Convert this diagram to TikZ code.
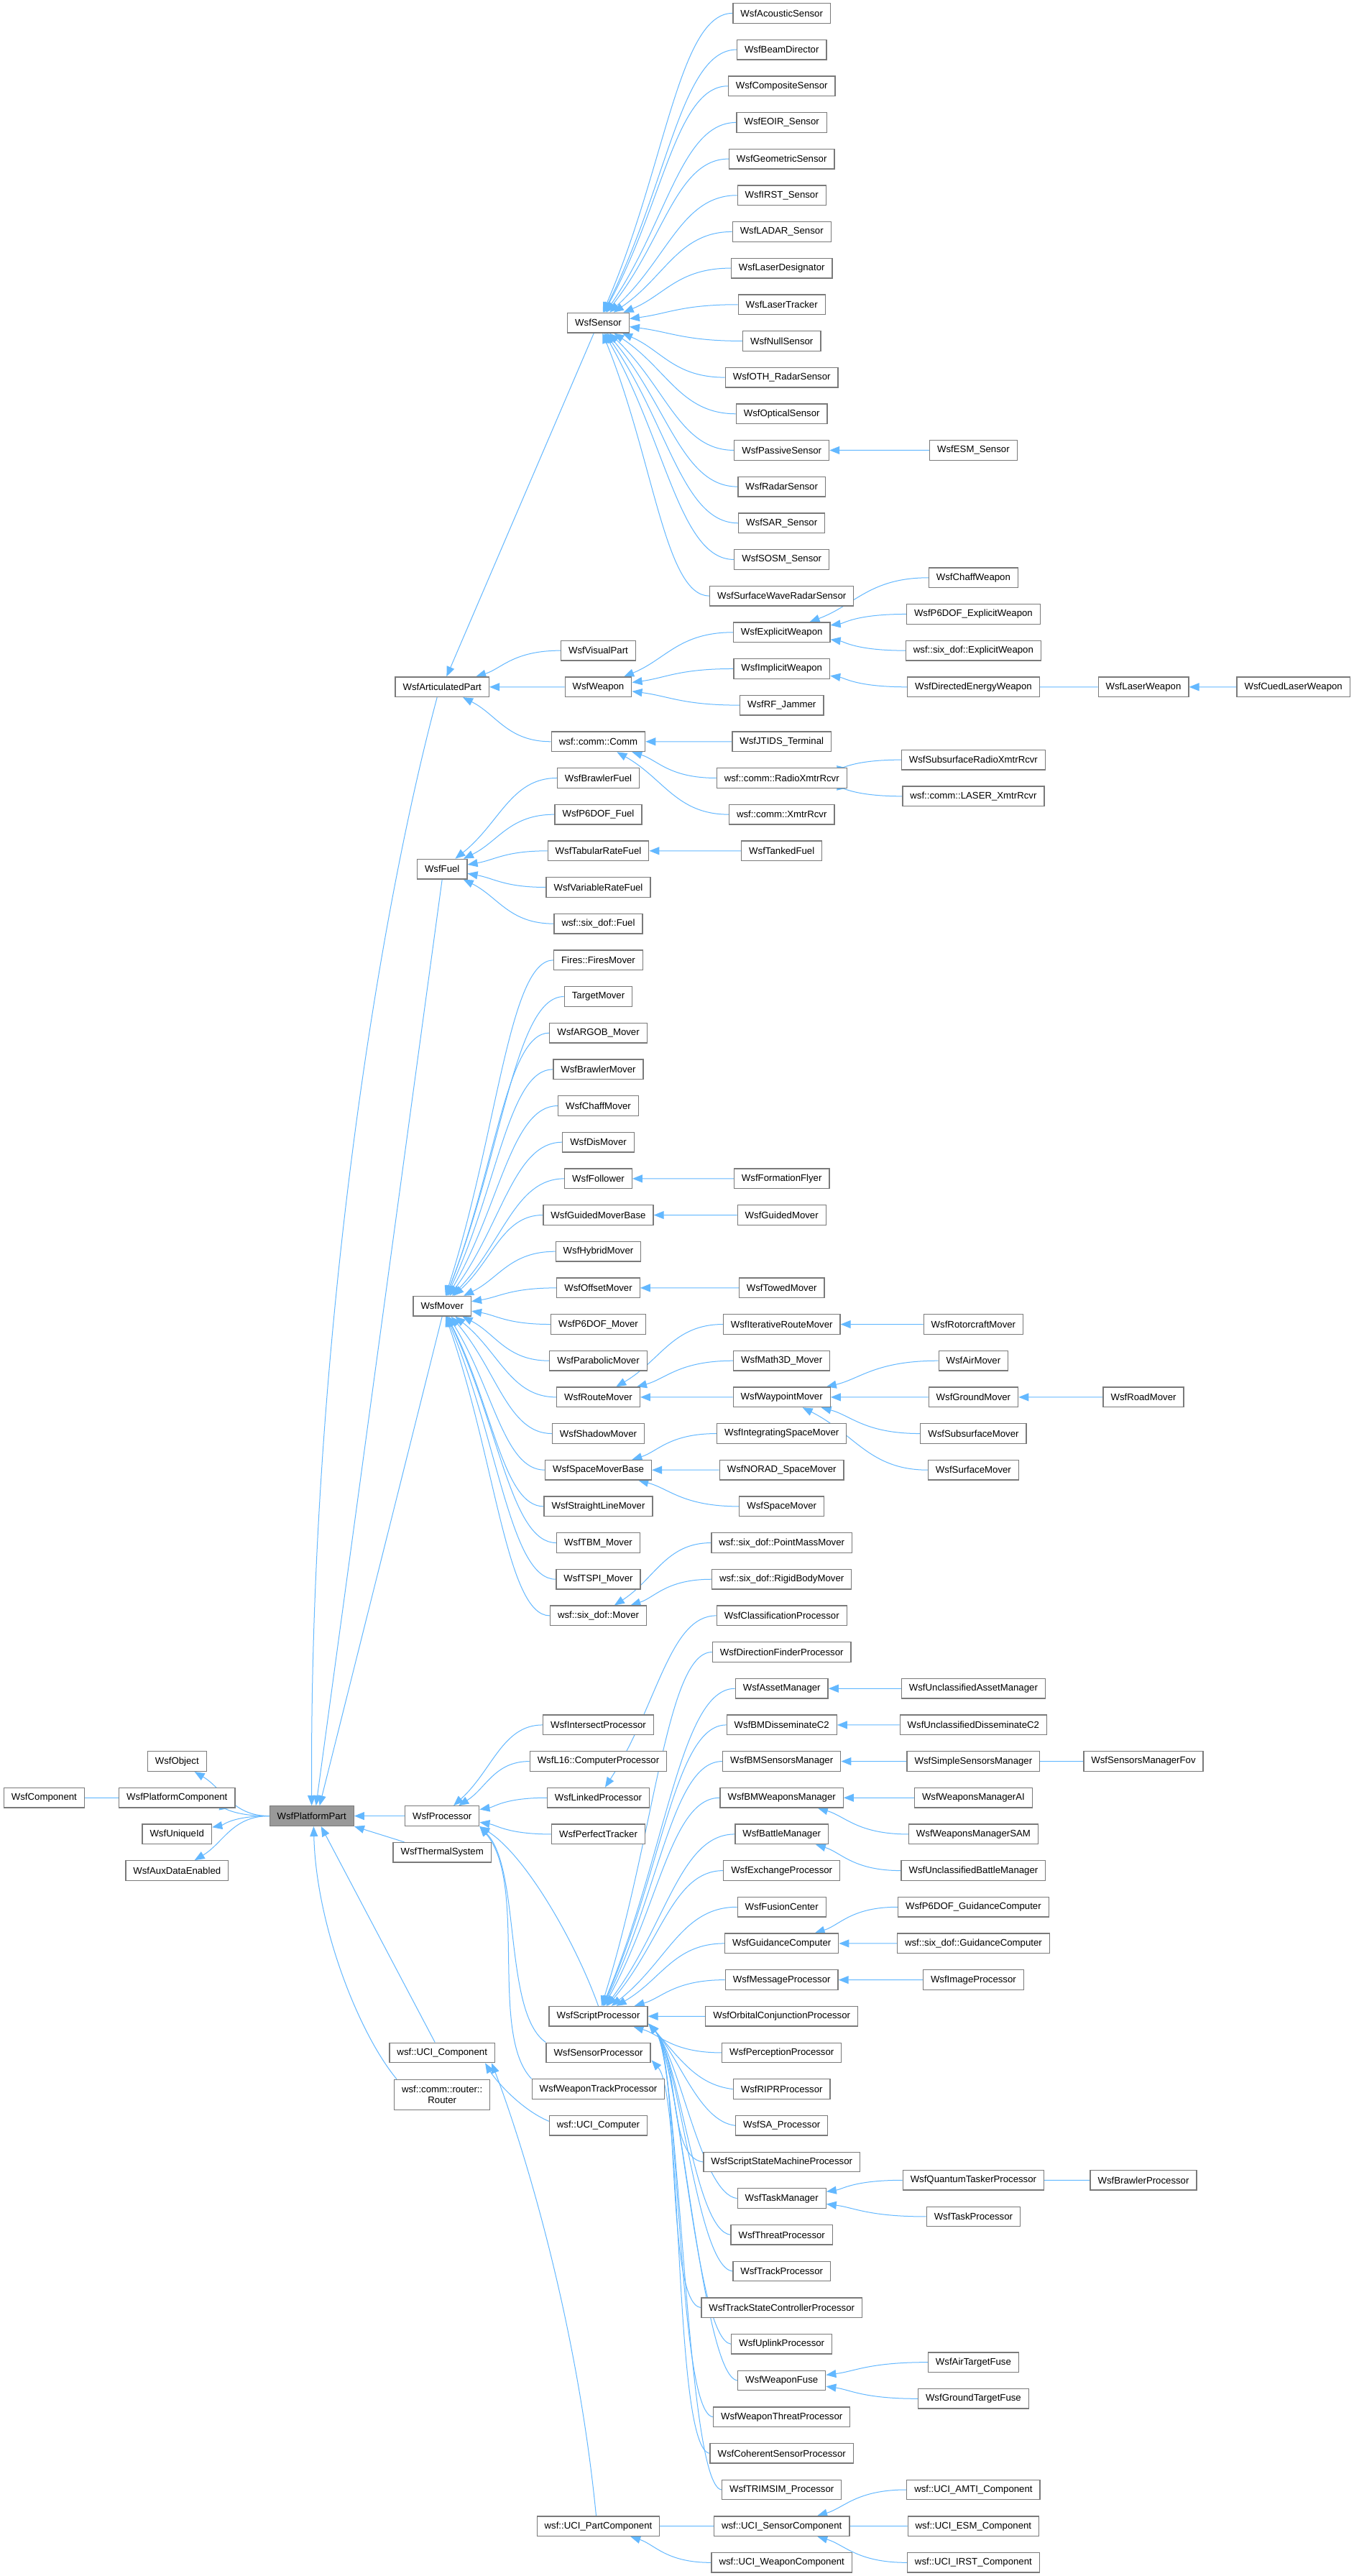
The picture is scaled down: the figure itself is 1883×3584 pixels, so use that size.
\documentclass[tikz,border=0pt]{standalone}
\usepackage{fontspec}
\setmainfont{Liberation Sans}
\usetikzlibrary{calc,arrows.meta}
\definecolor{edgeblue}{HTML}{63B8FF}
\definecolor{boxgray}{HTML}{7A7A7A}
\definecolor{ppfill}{HTML}{999999}
\pgfdeclarelayer{bg}
\pgfsetlayers{bg,main}
\newcommand{\rowy}[1]{18.4+25.335*(#1)}
\newcommand{\mkn}[4]{\node[cls] (#1) at (#2,{\rowy{#3}}) {#4};}
\newcommand{\inhe}[2]{\draw[inhedge] (#1.west) .. controls ($(#1.west)!0.4!(#2.center |- #1.west)$) and ($(#2.center)!0.5!(#1.west)$) .. (#2);}
\newcommand{\inhs}[2]{\draw[inhedge] (#1.west) .. controls ($(#1.west)+(-50,-6)$) and ($(#2.south east)+(45,45)$) .. ($(#2.south east)+(1,-4)$);}
\def\xA{61.4}
\def\xB{246.3}
\def\xC{433.7}
\def\xD{615.2}
\def\xE{832.5}
\def\xF{1087.7}
\def\xG{1354.4}
\def\xH{1591}
\def\xI{1799.7}
\begin{document}
\begin{tikzpicture}[x=1pt,y=-1pt,
  cls/.style={draw=boxgray, line width=1.3pt, fill=white, inner xsep=10.5pt, inner ysep=0pt,
    minimum height=27.6pt, font=\fontsize{13.2}{15.3}\selectfont, text=black},
  inhedge/.style={draw=edgeblue, line width=1pt, -{Triangle[length=14pt,width=11pt]}}]
\useasboundingbox (0,0) rectangle (1883,3584);

% ---- sensors
\mkn{s1}{\xF}{0}{WsfAcousticSensor}
\mkn{s2}{\xF}{2}{WsfBeamDirector}
\mkn{s3}{\xF}{4}{WsfCompositeSensor}
\mkn{s4}{\xF}{6}{WsfEOIR\_Sensor}
\mkn{s5}{\xF}{8}{WsfGeometricSensor}
\mkn{s6}{\xF}{10}{WsfIRST\_Sensor}
\mkn{s7}{\xF}{12}{WsfLADAR\_Sensor}
\mkn{s8}{\xF}{14}{WsfLaserDesignator}
\mkn{s9}{\xF}{16}{WsfLaserTracker}
\mkn{s10}{\xF}{18}{WsfNullSensor}
\mkn{s11}{\xF}{20}{WsfOTH\_RadarSensor}
\mkn{s12}{\xF}{22}{WsfOpticalSensor}
\mkn{s13}{\xF}{24}{WsfPassiveSensor}
\mkn{s14}{\xF}{26}{WsfRadarSensor}
\mkn{s15}{\xF}{28}{WsfSAR\_Sensor}
\mkn{s16}{\xF}{30}{WsfSOSM\_Sensor}
\mkn{s17}{\xF}{32}{WsfSurfaceWaveRadarSensor}
\mkn{esm}{\xG}{24}{WsfESM\_Sensor}
\mkn{sensor}{\xE}{17}{WsfSensor}
% ---- weapons / comm
\mkn{chaffw}{\xG}{31}{WsfChaffWeapon}
\mkn{p6exw}{\xG}{33}{WsfP6DOF\_ExplicitWeapon}
\mkn{exw}{\xF}{34}{WsfExplicitWeapon}
\mkn{visual}{\xE}{35}{WsfVisualPart}
\mkn{sdexw}{\xG}{35}{wsf::six\_dof::ExplicitWeapon}
\mkn{imw}{\xF}{36}{WsfImplicitWeapon}
\mkn{ap}{\xD}{37}{WsfArticulatedPart}
\mkn{weapon}{\xE}{37}{WsfWeapon}
\mkn{dew}{\xG}{37}{WsfDirectedEnergyWeapon}
\mkn{lw}{\xH}{37}{WsfLaserWeapon}
\mkn{clw}{\xI}{37}{WsfCuedLaserWeapon}
\mkn{rfj}{\xF}{38}{WsfRF\_Jammer}
\mkn{comm}{\xE}{40}{wsf::comm::Comm}
\mkn{jtids}{\xF}{40}{WsfJTIDS\_Terminal}
\mkn{subradio}{\xG}{41}{WsfSubsurfaceRadioXmtrRcvr}
\mkn{radio}{\xF}{42}{wsf::comm::RadioXmtrRcvr}
\mkn{laserx}{\xG}{43}{wsf::comm::LASER\_XmtrRcvr}
\mkn{xmtr}{\xF}{44}{wsf::comm::XmtrRcvr}
% ---- fuel
\mkn{bfuel}{\xE}{42}{WsfBrawlerFuel}
\mkn{p6fuel}{\xE}{44}{WsfP6DOF\_Fuel}
\mkn{tabfuel}{\xE}{46}{WsfTabularRateFuel}
\mkn{tankfuel}{\xF}{46}{WsfTankedFuel}
\mkn{fuel}{\xD}{47}{WsfFuel}
\mkn{varfuel}{\xE}{48}{WsfVariableRateFuel}
\mkn{sdfuel}{\xE}{50}{wsf::six\_dof::Fuel}
% ---- movers
\mkn{fires}{\xE}{52}{Fires::FiresMover}
\mkn{target}{\xE}{54}{TargetMover}
\mkn{argob}{\xE}{56}{WsfARGOB\_Mover}
\mkn{bmover}{\xE}{58}{WsfBrawlerMover}
\mkn{chaffm}{\xE}{60}{WsfChaffMover}
\mkn{dis}{\xE}{62}{WsfDisMover}
\mkn{follower}{\xE}{64}{WsfFollower}
\mkn{formation}{\xF}{64}{WsfFormationFlyer}
\mkn{gmb}{\xE}{66}{WsfGuidedMoverBase}
\mkn{guided}{\xF}{66}{WsfGuidedMover}
\mkn{hybrid}{\xE}{68}{WsfHybridMover}
\mkn{offset}{\xE}{70}{WsfOffsetMover}
\mkn{towed}{\xF}{70}{WsfTowedMover}
\mkn{mover}{\xD}{71}{WsfMover}
\mkn{p6mover}{\xE}{72}{WsfP6DOF\_Mover}
\mkn{iterroute}{\xF}{72}{WsfIterativeRouteMover}
\mkn{rotor}{\xG}{72}{WsfRotorcraftMover}
\mkn{parab}{\xE}{74}{WsfParabolicMover}
\mkn{math3d}{\xF}{74}{WsfMath3D\_Mover}
\mkn{air}{\xG}{74}{WsfAirMover}
\mkn{route}{\xE}{76}{WsfRouteMover}
\mkn{waypoint}{\xF}{76}{WsfWaypointMover}
\mkn{ground}{\xG}{76}{WsfGroundMover}
\mkn{road}{\xH}{76}{WsfRoadMover}
\mkn{shadow}{\xE}{78}{WsfShadowMover}
\mkn{intspace}{\xF}{78}{WsfIntegratingSpaceMover}
\mkn{subsurf}{\xG}{78}{WsfSubsurfaceMover}
\mkn{smb}{\xE}{80}{WsfSpaceMoverBase}
\mkn{norad}{\xF}{80}{WsfNORAD\_SpaceMover}
\mkn{surface}{\xG}{80}{WsfSurfaceMover}
\mkn{straight}{\xE}{82}{WsfStraightLineMover}
\mkn{space}{\xF}{82}{WsfSpaceMover}
\mkn{tbm}{\xE}{84}{WsfTBM\_Mover}
\mkn{pointmass}{\xF}{84}{wsf::six\_dof::PointMassMover}
\mkn{tspi}{\xE}{86}{WsfTSPI\_Mover}
\mkn{rigid}{\xF}{86}{wsf::six\_dof::RigidBodyMover}
\mkn{sdmover}{\xE}{88}{wsf::six\_dof::Mover}
% ---- processors
\mkn{classif}{\xF}{88}{WsfClassificationProcessor}
\mkn{dirfind}{\xF}{90}{WsfDirectionFinderProcessor}
\mkn{asset}{\xF}{92}{WsfAssetManager}
\mkn{uasset}{\xG}{92}{WsfUnclassifiedAssetManager}
\mkn{intersect}{\xE}{94}{WsfIntersectProcessor}
\mkn{bmdis}{\xF}{94}{WsfBMDisseminateC2}
\mkn{udis}{\xG}{94}{WsfUnclassifiedDisseminateC2}
\mkn{object}{\xB}{96}{WsfObject}
\mkn{l16}{\xE}{96}{WsfL16::ComputerProcessor}
\mkn{bmsens}{\xF}{96}{WsfBMSensorsManager}
\mkn{simsens}{\xG}{96}{WsfSimpleSensorsManager}
\mkn{fov}{\xH}{96}{WsfSensorsManagerFov}
\mkn{component}{\xA}{98}{WsfComponent}
\mkn{platcomp}{\xB}{98}{WsfPlatformComponent}
\mkn{linked}{\xE}{98}{WsfLinkedProcessor}
\mkn{bmweap}{\xF}{98}{WsfBMWeaponsManager}
\mkn{wmai}{\xG}{98}{WsfWeaponsManagerAI}
\node[cls, fill=ppfill] (pp) at (\xC,{\rowy{99}}) {WsfPlatformPart};
\mkn{processor}{\xD}{99}{WsfProcessor}
\mkn{unique}{\xB}{100}{WsfUniqueId}
\mkn{perfect}{\xE}{100}{WsfPerfectTracker}
\mkn{battle}{\xF}{100}{WsfBattleManager}
\mkn{wmsam}{\xG}{100}{WsfWeaponsManagerSAM}
\mkn{thermal}{\xD}{101}{WsfThermalSystem}
\mkn{aux}{\xB}{102}{WsfAuxDataEnabled}
\mkn{exchange}{\xF}{102}{WsfExchangeProcessor}
\mkn{ubattle}{\xG}{102}{WsfUnclassifiedBattleManager}
\mkn{fusion}{\xF}{104}{WsfFusionCenter}
\mkn{p6guid}{\xG}{104}{WsfP6DOF\_GuidanceComputer}
\mkn{guid}{\xF}{106}{WsfGuidanceComputer}
\mkn{sdguid}{\xG}{106}{wsf::six\_dof::GuidanceComputer}
\mkn{message}{\xF}{108}{WsfMessageProcessor}
\mkn{image}{\xG}{108}{WsfImageProcessor}
\mkn{script}{\xE}{110}{WsfScriptProcessor}
\mkn{orbital}{\xF}{110}{WsfOrbitalConjunctionProcessor}
\mkn{ucicomp}{\xD}{112}{wsf::UCI\_Component}
\mkn{sensproc}{\xE}{112}{WsfSensorProcessor}
\mkn{percep}{\xF}{112}{WsfPerceptionProcessor}
\node[cls, align=center, minimum height=42.5pt] (router) at (\xD,2914.5) {wsf::comm::router::\\Router};
\mkn{wtrack}{\xE}{114}{WsfWeaponTrackProcessor}
\mkn{ripr}{\xF}{114}{WsfRIPRProcessor}
\mkn{ucicomputer}{\xE}{116}{wsf::UCI\_Computer}
\mkn{sa}{\xF}{116}{WsfSA\_Processor}
\mkn{ssm}{\xF}{118}{WsfScriptStateMachineProcessor}
\mkn{quantum}{\xG}{119}{WsfQuantumTaskerProcessor}
\mkn{bproc}{\xH}{119}{WsfBrawlerProcessor}
\mkn{taskmgr}{\xF}{120}{WsfTaskManager}
\mkn{taskproc}{\xG}{121}{WsfTaskProcessor}
\mkn{threat}{\xF}{122}{WsfThreatProcessor}
\mkn{track}{\xF}{124}{WsfTrackProcessor}
\mkn{tsc}{\xF}{126}{WsfTrackStateControllerProcessor}
\mkn{uplink}{\xF}{128}{WsfUplinkProcessor}
\mkn{airfuse}{\xG}{129}{WsfAirTargetFuse}
\mkn{wfuse}{\xF}{130}{WsfWeaponFuse}
\mkn{gfuse}{\xG}{131}{WsfGroundTargetFuse}
\mkn{wthreat}{\xF}{132}{WsfWeaponThreatProcessor}
\mkn{coherent}{\xF}{134}{WsfCoherentSensorProcessor}
\mkn{trimsim}{\xF}{136}{WsfTRIMSIM\_Processor}
\mkn{amti}{\xG}{136}{wsf::UCI\_AMTI\_Component}
\mkn{partcomp}{\xE}{138}{wsf::UCI\_PartComponent}
\mkn{sensorcomp}{\xF}{138}{wsf::UCI\_SensorComponent}
\mkn{esmcomp}{\xG}{138}{wsf::UCI\_ESM\_Component}
\mkn{weapcomp}{\xF}{140}{wsf::UCI\_WeaponComponent}
\mkn{irstcomp}{\xG}{140}{wsf::UCI\_IRST\_Component}

\begin{pgfonlayer}{bg}
\fill[white] (0,0) rectangle (1883,3584);
% sensors
\foreach \c in {s1,s2,s3,s4,s5,s6,s7,s8,s9,s10,s11,s12,s13,s14,s15,s16,s17}{\inhe{\c}{sensor}}
\inhe{esm}{s13}
\draw[inhedge] (sensor) -- (ap);
\inhe{visual}{ap}
\inhe{weapon}{ap}
\inhe{comm}{ap}
\foreach \c in {chaffw,p6exw,sdexw}{\inhe{\c}{exw}}
\foreach \c in {exw,imw,rfj}{\inhe{\c}{weapon}}
\inhe{dew}{imw}
\inhe{lw}{dew}
\inhe{clw}{lw}
\foreach \c in {jtids,radio,xmtr}{\inhe{\c}{comm}}
\inhe{subradio}{radio}
\inhe{laserx}{radio}
% fuel
\foreach \c in {bfuel,p6fuel,tabfuel,varfuel,sdfuel}{\inhe{\c}{fuel}}
\inhe{tankfuel}{tabfuel}
% movers
\foreach \c in {fires,target,argob,bmover,chaffm,dis,follower,gmb,hybrid,offset,p6mover,parab,route,shadow,smb,straight,tbm,tspi,sdmover}{\inhe{\c}{mover}}
\inhe{formation}{follower}
\inhe{guided}{gmb}
\inhe{towed}{offset}
\foreach \c in {iterroute,math3d,waypoint}{\inhe{\c}{route}}
\inhe{rotor}{iterroute}
\foreach \c in {air,ground,subsurf,surface}{\inhe{\c}{waypoint}}
\inhe{road}{ground}
\foreach \c in {intspace,norad,space}{\inhe{\c}{smb}}
\inhe{pointmass}{sdmover}
\inhe{rigid}{sdmover}
% into the platform part
\draw[inhedge] ($(ap.south)+(-7,0)$) .. controls (520,1300) and (430,1900) .. (pp.north);
\draw[inhedge] (fuel.south) -- ($(pp.north)+(6,0)$);
\draw[inhedge] (mover.south) -- ($(pp.north)+(11,0)$);
\draw[inhedge] (processor) -- (pp);
\draw[inhedge] ($(thermal.north west)+(16,0)$) -- (pp.south east);
\draw[inhedge] ($(ucicomp.north)+(-10,0)$) -- ($(pp.south)+(13,0)$);
\draw[inhedge] ($(router.north west)+(4,0)$) .. controls (500,2830) and (440,2680) .. ($(pp.south)+(2.7,0)$);
% platform part bases
\foreach \c in {object,platcomp,unique,aux}{\inhe{pp}{\c}}
\inhe{platcomp}{component}
% processors
\foreach \c in {intersect,l16,linked,perfect}{\inhe{\c}{processor}}
\draw[inhedge] (script.north) .. controls (800,2700) and (730,2580) .. (processor.south east);
\draw[inhedge] (sensproc.north west) .. controls (700,2800) and (725,2600) .. (processor.south east);
\draw[inhedge] (wtrack.north west) .. controls (680,2830) and (735,2620) .. (processor.south east);
\inhe{classif}{linked}
\foreach \c in {dirfind,asset,bmdis,bmsens,bmweap,battle,exchange,fusion,guid,message,orbital,percep}{\inhe{\c}{script}}
\foreach \c in {ripr,sa,ssm,taskmgr,threat,track,tsc,uplink,wfuse,wthreat,trimsim}{\inhs{\c}{script}}
\inhs{coherent}{sensproc}
\inhe{uasset}{asset}
\inhe{udis}{bmdis}
\inhe{simsens}{bmsens}
\inhe{fov}{simsens}
\inhe{wmai}{bmweap}
\inhe{wmsam}{bmweap}
\inhe{ubattle}{battle}
\inhe{p6guid}{guid}
\inhe{sdguid}{guid}
\inhe{image}{message}
\inhe{quantum}{taskmgr}
\inhe{taskproc}{taskmgr}
\inhe{bproc}{quantum}
\inhe{airfuse}{wfuse}
\inhe{gfuse}{wfuse}
% UCI
\draw[inhedge] ($(ucicomputer.west)+(0,-6)$) .. controls (725,2935) and (690,2895) .. ($(ucicomp.south east)+(-14,0)$);
\draw[inhedge] ($(partcomp.north)+(-3,0)$) .. controls (800,3200) and (715,2950) .. ($(ucicomp.south east)+(-5,0)$);
\inhe{sensorcomp}{partcomp}
\inhe{weapcomp}{partcomp}
\foreach \c in {amti,esmcomp,irstcomp}{\inhe{\c}{sensorcomp}}
\end{pgfonlayer}
\end{tikzpicture}
\end{document}
